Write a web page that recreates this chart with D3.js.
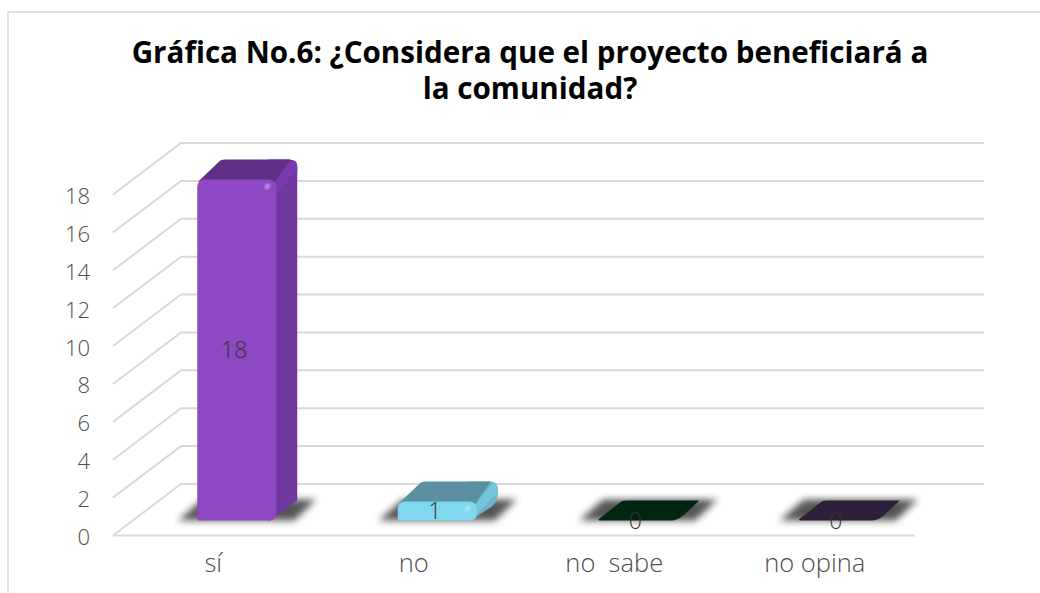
<!DOCTYPE html>
<html>
<head>
<meta charset="utf-8">
<script src="https://cdn.jsdelivr.net/npm/d3@7"></script>
<style>
  html, body { margin: 0; padding: 0; background: #fff; overflow: hidden; }
  text { font-family: "Open Sans", "Lato", sans-serif; }
  .title { font-weight: 700; font-size: 29.6px; fill: #000; text-anchor: middle; }
  .axis text { font-family: "Open Sans", sans-serif; font-weight: 300; fill: #4d4d4d; white-space: pre; }
  .value { font-family: "Open Sans", sans-serif; font-weight: 300; font-size: 23px; fill: #333; text-anchor: middle; }
</style>
</head>
<body>
<div id="chart"></div>
<script>
const categories = ["sí", "no", "no  sabe", "no opina"];
const seriesValues = [18, 1, 0, 0];
const yTicks = [0, 2, 4, 6, 8, 10, 12, 14, 16, 18];
const titleLines = ["Gráfica No.6: ¿Considera que el proyecto beneficiará a", "la comunidad?"];
const frontColors = ["#8e48c3", "#7fd8ee", "#002611", "#2e1f3a"];
const topColors = ["#5e2f85", "#5d8fa2", "#002611", "#2e1f3a"];
const sideColors = ["#7038a0", "#6ab5cc", "#002611", "#2e1f3a"];
const bevelColors = ["#7b3aab", "#74c4da", "#002611", "#2e1f3a"];

const width = 1040, height = 593;

const svg = d3.select("#chart").append("svg")
  .attr("width", width)
  .attr("height", height)
  .style("display", "block");

// soft shadow under the bars
const defs = svg.append("defs");
defs.append("filter").attr("id", "blur")
  .attr("x", "-30%").attr("y", "-80%").attr("width", "160%").attr("height", "260%")
  .append("feGaussianBlur").attr("stdDeviation", 3.6);
const spot = defs.append("radialGradient").attr("id", "spot");
spot.append("stop").attr("offset", "0%").attr("stop-color", "#fff").attr("stop-opacity", 0.45);
spot.append("stop").attr("offset", "100%").attr("stop-color", "#fff").attr("stop-opacity", 0);

// chart frame, only the top and left edges show
svg.append("path")
  .attr("d", "M8,593V12H1040")
  .attr("fill", "none")
  .attr("stroke", "#d9d9d9")
  .attr("stroke-width", 1.5);

svg.selectAll(".title").data(titleLines).enter().append("text")
  .attr("class", "title")
  .attr("x", 530)
  .attr("y", (d, i) => 63 + i * 36)
  .text(d => d);

const x = d3.scaleBand().domain(categories).range([113, 915]);
const y = d3.scaleLinear().domain([0, 18]).range([535.5, 194.5]);

// depth of the chart box
const wallDx = 68, wallDy = -51.5;
// bar placement on the floor and its own depth
const barLeft = -16, barRight = 63, barLift = 15, barDx = 21, barDy = -20;

// walls and back gridlines
svg.selectAll(".grid").data(yTicks).enter().append("path")
  .attr("class", "grid")
  .attr("d", d => `M${x.range()[0]},${y(d)}L${x.range()[0] + wallDx},${y(d) + wallDy}H984`)
  .attr("fill", "none")
  .attr("stroke", "#d9d9d9")
  .attr("stroke-width", 2);

// axes
const yAxis = svg.append("g").attr("class", "axis")
  .attr("transform", `translate(${x.range()[0]},2)`)
  .call(d3.axisLeft(y).tickValues(yTicks).tickSize(0).tickPadding(23));
yAxis.select(".domain").remove();
yAxis.selectAll("text").style("font-size", "22px");

const xAxis = svg.append("g").attr("class", "axis")
  .attr("transform", `translate(0,${y(0)})`)
  .call(d3.axisBottom(x).tickSize(0).tickPadding(18));
xAxis.select(".domain").attr("stroke", "#d9d9d9").attr("stroke-width", 2).attr("d", `M${x.range()[0]},0H${x.range()[1]}`);
xAxis.selectAll("text").style("font-size", "25.5px");

const bars = svg.selectAll(".bar").data(categories).enter().append("g").attr("class", "bar");

bars.each(function (cat, i) {
  const g = d3.select(this);
  const v = seriesValues[i];
  const cx = x(cat) + x.bandwidth() / 2;
  const x0 = cx + barLeft, x1 = cx + barRight;
  const yb = y(0) - barLift, yt = y(v) - barLift;
  const h = yb - yt;

  // floor shadow
  g.append("path")
    .attr("d", `M${x0 - 19},${yb}L${x0 - 19 + barDx + 3},${yb + barDy - 1}H${x1 + barDx + 19}L${x1 + 18},${yb}Z`)
    .attr("fill", "#2b2b2b")
    .attr("opacity", 0.8)
    .attr("filter", "url(#blur)");

  if (h === 0) {
    // empty category, only the rounded footprint is left
    g.append("path")
      .attr("d", `M${x0},${yb - 1}L${x0 + barDx + 2},${yb + barDy + 1}Q${x0 + barDx + 4},${yb + barDy} ${x0 + barDx + 8},${yb + barDy}H${x1 + barDx + 1}L${x1 + 6},${yb - 5}Q${x1},${yb} ${x1 - 6},${yb}H${x0 + 1}Z`)
      .attr("fill", frontColors[i]);
    return;
  }

  const r = Math.min(8, h / 2);
  const rb = h < 30 ? 6 : 0;
  // side face, runs under the rounded silhouette
  g.append("path")
    .attr("d", `M${x1 - 6},${yb}L${x1 + barDx - rb},${yb + barDy + rb}Q${x1 + barDx},${yb + barDy} ${x1 + barDx},${yb + barDy - rb}V${yt + barDy + r}Q${x1 + barDx},${yt + barDy} ${x1 + barDx - r},${yt + barDy}H${x1 - r}V${yb}Z`)
    .attr("fill", sideColors[i]);
  // lighter bevel at the top right edge
  g.append("path")
    .attr("d", `M${x1 - 3},${yt + 5}L${x1 + barDx - 5},${yt + barDy + 1}Q${x1 + barDx},${yt + barDy} ${x1 + barDx},${yt + barDy + r}V${yt + barDy + r + 3}L${x1},${yt + r + 5}Z`)
    .attr("fill", bevelColors[i]);
  // top face
  g.append("path")
    .attr("d", `M${x0 + 1},${yt + 2}L${x0 + barDx + 2},${yt + barDy + 1}Q${x0 + barDx + 4},${yt + barDy} ${x0 + barDx + 8},${yt + barDy}H${x1 + barDx - 7}L${x1 - 2},${yt + 3}Z`)
    .attr("fill", topColors[i]);
  // front face
  g.append("path")
    .attr("d", `M${x0},${yb - 2}V${yt + r}Q${x0},${yt} ${x0 + r},${yt}H${x1 - r}Q${x1},${yt} ${x1},${yt + r}V${yb - Math.min(6, h / 3)}Q${x1},${yb} ${x1 - r},${yb}H${x0 + 2}Q${x0},${yb} ${x0},${yb - 2}Z`)
    .attr("fill", frontColors[i]);
  // small highlight near the corner
  g.append("ellipse")
    .attr("cx", x1 - 9).attr("cy", yt + 7)
    .attr("rx", 4).attr("ry", 5)
    .attr("transform", `rotate(40 ${x1 - 9} ${yt + 7})`)
    .attr("fill", "url(#spot)");
});

// data labels
svg.selectAll(".value").data(categories).enter().append("text")
  .attr("class", "value")
  .attr("x", d => x(d) + x.bandwidth() / 2 + 21)
  .attr("y", (d, i) => (y(seriesValues[i]) + y(0)) / 2 - barLift)
  .attr("dy", "0.36em")
  .text((d, i) => seriesValues[i]);
</script>
</body>
</html>
